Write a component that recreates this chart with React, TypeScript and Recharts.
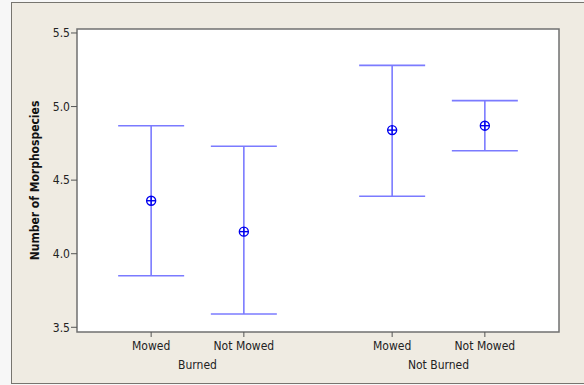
import { ComposedChart, Scatter, ErrorBar, XAxis, YAxis, CartesianGrid, ReferenceArea } from 'recharts'

const treatments = ['Mowed', 'Not Mowed', 'Mowed', 'Not Mowed']
const burnGroups = ['Burned', 'Burned', 'Not Burned', 'Not Burned']
const xPos = [1, 2, 3.6, 4.6]
const means = [4.36, 4.15, 4.84, 4.87]
const upper = [4.87, 4.73, 5.28, 5.04]
const lower = [3.85, 3.59, 4.39, 4.7]
const yTicks = [3.5, 4.0, 4.5, 5.0, 5.5]

const xDomain: [number, number] = [0.2, 5.4]
const yDomain: [number, number] = [3.468, 5.527]

const rows = xPos.map((x, i) => ({
  x,
  mean: means[i],
  err: [means[i] - lower[i], upper[i] - means[i]],
}))

const groupNames = Array.from(new Set(burnGroups))
const groupTicks = groupNames.map((g) => {
  const xs = xPos.filter((_, i) => burnGroups[i] === g)
  return xs.reduce((a, b) => a + b, 0) / xs.length
})
// hidden points so the second x axis has something attached to it
const groupRows = groupTicks.map((x) => ({ x, mean: means[0] }))

const font = '"DejaVu Sans Condensed", "DejaVu Sans", Tahoma, sans-serif'

function Marker(props: any) {
  const { cx, cy } = props
  const r = 4.5
  return (
    <g stroke="#0000ee" strokeWidth={1.4} fill="none">
      <circle cx={cx} cy={cy} r={r} />
      <line x1={cx - r} y1={cy} x2={cx + r} y2={cy} />
      <line x1={cx} y1={cy - r} x2={cx} y2={cy + r} />
    </g>
  )
}

function YTitle(props: any) {
  const { viewBox } = props
  const x = viewBox.x + 8
  const y = viewBox.y + viewBox.height / 2
  return (
    <text
      x={x}
      y={y}
      transform={`rotate(-90 ${x} ${y})`}
      textAnchor="middle"
      dominantBaseline="central"
      fontFamily={font}
      fontSize={12}
      fontWeight="bold"
      fill="#111"
    >
      Number of Morphospecies
    </text>
  )
}

export default function App() {
  return (
    <div style={{ position: 'absolute', left: 0, top: 0, width: 584, height: 385, background: '#f7f7f7', overflow: 'hidden' }}>
      <div
        style={{
          position: 'absolute',
          left: 11,
          top: 2,
          width: 580,
          height: 380,
          background: '#efebe2',
          border: '1px solid #77756f',
        }}
      />
      <div style={{ position: 'absolute', left: 0, top: 0 }}>
        <ComposedChart width={584} height={385} margin={{ top: 29, right: 25, bottom: 0, left: 27 }}>
          <CartesianGrid fill="#ffffff" horizontal={false} vertical={false} />
          <XAxis
            xAxisId={0}
            dataKey="x"
            type="number"
            domain={xDomain}
            ticks={xPos}
            interval={0}
            tickFormatter={(v: number) => treatments[xPos.indexOf(v)] ?? ''}
            height={20}
            axisLine={false}
            tickSize={5}
            tickMargin={4}
            tickLine={{ stroke: '#555' }}
            tick={{ fontFamily: font, fontSize: 12, fill: '#222' }}
            allowDataOverflow
          />
          <XAxis
            xAxisId="group"
            dataKey="x"
            type="number"
            domain={xDomain}
            ticks={groupTicks}
            interval={0}
            tickFormatter={(v: number) => groupNames[groupTicks.indexOf(v)] ?? ''}
            height={33}
            axisLine={false}
            tickLine={false}
            tickSize={0}
            tickMargin={8}
            tick={{ fontFamily: font, fontSize: 12, fill: '#222' }}
            allowDataOverflow
          />
          <YAxis
            dataKey="mean"
            type="number"
            domain={yDomain}
            ticks={yTicks}
            interval={0}
            width={50}
            tickFormatter={(v: number) => v.toFixed(1)}
            axisLine={false}
            tickSize={6}
            tickMargin={1}
            tickLine={{ stroke: '#555' }}
            tick={{ fontFamily: font, fontSize: 12, fill: '#222' }}
            allowDataOverflow
            label={<YTitle />}
          />
          <ReferenceArea
            x1={xDomain[0]}
            x2={xDomain[1]}
            y1={yDomain[0]}
            y2={yDomain[1]}
            fill="none"
            fillOpacity={0}
            stroke="#707070"
            strokeWidth={1.5}
          />
          <Scatter
            xAxisId="group"
            data={groupRows}
            dataKey="mean"
            shape={() => <g />}
            legendType="none"
            isAnimationActive={false}
          />
          <Scatter data={rows} dataKey="mean" shape={<Marker />} isAnimationActive={false}>
            <ErrorBar dataKey="err" direction="y" width={33} stroke="#7b7bff" strokeWidth={1.6} isAnimationActive={false} />
          </Scatter>
        </ComposedChart>
      </div>
    </div>
  )
}
